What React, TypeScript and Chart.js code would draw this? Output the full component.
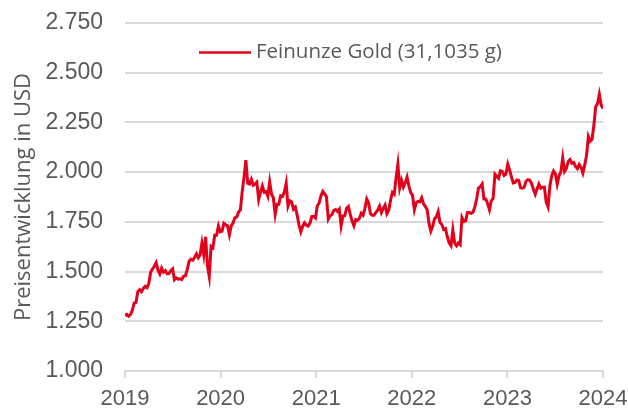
import React, { useEffect, useRef } from 'react';
import { Chart, registerables } from 'chart.js';

Chart.register(...registerables);

// Axis labels (evenly spaced year labels as in the reference)
const yearLabels = ['2019', '2020', '2021', '2022', '2023', '2024'];
const seriesLabel = 'Feinunze Gold (31,1035 g)';
const axisTitle = 'Preisentwicklung in USD';
const yMin = 1000;
const yMax = 2750;
const yStep = 250;

// Weekly gold price (USD per troy ounce)
const gold2019 = [1280, 1285, 1276, 1284, 1305, 1341, 1345, 1399, 1409, 1399, 1415, 1426, 1419, 1440, 1497, 1513, 1527, 1545, 1507, 1488, 1517, 1497, 1505, 1489, 1490, 1505, 1514, 1459, 1468, 1462, 1464, 1460, 1476, 1479, 1511];
const gold2020 = [1552, 1562, 1557, 1571, 1589, 1570, 1584, 1643, 1585, 1674, 1530, 1475, 1627, 1620, 1683, 1683, 1729, 1700, 1703, 1743, 1735, 1730, 1685, 1730, 1744, 1771, 1774, 1799, 1810, 1902, 1975, 2060, 1944, 1940, 1964, 1934, 1940, 1950, 1862, 1899, 1930, 1899, 1902, 1879, 1951, 1889, 1871, 1788, 1839, 1839, 1881, 1877];
const gold2021 = [1900, 1945, 1829, 1856, 1850, 1814, 1824, 1784, 1734, 1700, 1727, 1745, 1733, 1729, 1744, 1777, 1777, 1769, 1831, 1844, 1881, 1903, 1891, 1877, 1764, 1781, 1787, 1808, 1812, 1802, 1814, 1730, 1780, 1781, 1818, 1827, 1788, 1754, 1730, 1761, 1757, 1768, 1793, 1783, 1818, 1865, 1846, 1792, 1783, 1783, 1798, 1809, 1829];
const gold2022 = [1797, 1818, 1835, 1791, 1808, 1859, 1898, 1889, 1970, 2040, 1921, 1958, 1925, 1946, 1975, 1931, 1897, 1883, 1811, 1846, 1853, 1851, 1871, 1840, 1827, 1811, 1742, 1703, 1727, 1766, 1775, 1802, 1747, 1737, 1712, 1716, 1675, 1644, 1630, 1710, 1644, 1630, 1644, 1635, 1771, 1751, 1755, 1797, 1797, 1793, 1798, 1824];
const gold2023 = [1865, 1920, 1926, 1940, 1865, 1865, 1842, 1811, 1856, 1868, 1989, 1978, 1969, 2007, 2004, 1983, 1990, 2040, 2011, 1977, 1946, 1948, 1961, 1958, 1921, 1919, 1925, 1955, 1962, 1959, 1943, 1914, 1889, 1915, 1940, 1919, 1924, 1925, 1849, 1825, 1932, 1981, 2006, 1992, 1940, 1981, 2002, 2072, 2004, 2019, 2053, 2063];
const gold2024 = [2045, 2049, 2029, 2018, 2039, 2024, 1995, 2035, 2083, 2179, 2155, 2165, 2233, 2329, 2344, 2392, 2337, 2320];

const RED = '#e2001a';
const GRID = '#d9d9d9';
const TEXT = '#595959';

function formatDe(v: number): string {
  return Math.round(v).toString().replace(/\B(?=(\d{3})+(?!\d))/g, '.');
}

export default function App() {
  const ref = useRef<HTMLCanvasElement>(null);

  useEffect(() => {
    const values = [...gold2019, ...gold2020, ...gold2021, ...gold2022, ...gold2023, ...gold2024];
    const span = yearLabels.length - 1;
    const n = values.length;
    const points = values.map((v, i) => ({ x: (i * span) / (n - 1), y: v }));

    const inlineLegend = {
      id: 'inlineLegend',
      afterDraw(chart: any) {
        const ctx = chart.ctx;
        const ds = chart.data.datasets[0];
        const area = chart.chartArea;
        const x0 = area.left + 74;
        const y0 = area.top + 29.5;
        ctx.save();
        ctx.strokeStyle = ds.borderColor;
        ctx.lineWidth = 2.5;
        ctx.beginPath();
        ctx.moveTo(x0, y0);
        ctx.lineTo(x0 + 52, y0);
        ctx.stroke();
        ctx.fillStyle = TEXT;
        ctx.font = '20.5px "Open Sans"';
        ctx.textBaseline = 'middle';
        ctx.textAlign = 'left';
        ctx.fillText(ds.label, x0 + 57, y0);
        ctx.restore();
      },
    };

    const chart = new Chart(ref.current as HTMLCanvasElement, {
      type: 'line',
      data: {
        datasets: [
          {
            label: seriesLabel,
            data: points,
            borderColor: RED,
            backgroundColor: RED,
            borderWidth: 3,
            pointRadius: 0,
            tension: 0,
            fill: false,
          },
        ],
      },
      options: {
        animation: false,
        responsive: false,
        maintainAspectRatio: false,
        layout: { padding: { left: 0, right: 25, top: 23, bottom: 0 } },
        plugins: { legend: { display: false }, tooltip: { enabled: false } },
        scales: {
          x: {
            type: 'linear',
            min: 0,
            max: span,
            afterFit: (s: any) => {
              s.height = 39;
              s.paddingLeft = 0;
              s.paddingRight = 0;
            },
            grid: { drawOnChartArea: false, drawTicks: true, tickLength: 7, color: GRID, lineWidth: 2 },
            border: { display: true, color: GRID, width: 2 },
            ticks: {
              stepSize: 1,
              autoSkip: false,
              maxRotation: 0,
              padding: 8,
              color: TEXT,
              font: { family: '"Liberation Sans", Arial, sans-serif', size: 22 },
              callback: (v: any) => yearLabels[Math.round(Number(v))] ?? '',
            },
          },
          y: {
            min: yMin,
            max: yMax,
            afterFit: (s: any) => {
              s.width = 125;
              s.paddingTop = 0;
              s.paddingBottom = 0;
            },
            grid: { color: GRID, lineWidth: 2, drawTicks: false },
            border: { display: false },
            ticks: {
              stepSize: yStep,
              padding: 22,
              color: TEXT,
              font: { family: '"Liberation Sans", Arial, sans-serif', size: 23 },
              callback: (v: any) => formatDe(Number(v)),
            },
            title: {
              display: true,
              text: axisTitle,
              color: TEXT,
              font: { family: '"Open Sans"', size: 22 },
              padding: { top: 11, bottom: 0 },
            },
          },
        },
      },
      plugins: [inlineLegend],
    });
    return () => chart.destroy();
  }, []);

  return (
    <div style={{ position: 'fixed', left: 0, top: 0, width: 628, height: 410, background: '#fff' }}>
      <canvas ref={ref} width={628} height={410} style={{ display: 'block' }} />
    </div>
  );
}
